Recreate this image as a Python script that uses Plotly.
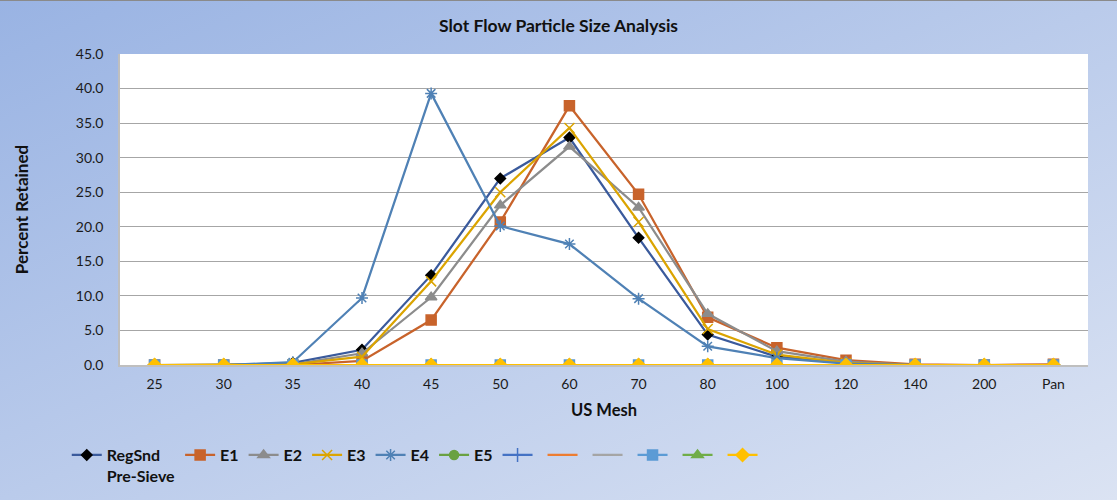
import plotly.graph_objects as go
import base64

categories = ["25", "30", "35", "40", "45", "50", "60", "70", "80", "100", "120", "140", "200", "Pan"]
regsnd = [0, 0, 0.3, 2.2, 13.0, 27.0, 32.9, 18.4, 4.4, 1.2, 0.3, 0, 0, 0]
e1 = [0, 0, 0, 0.6, 6.5, 20.7, 37.5, 24.7, 6.9, 2.5, 0.7, 0.1, 0, 0.1]
e2 = [0, 0, 0.1, 1.7, 9.8, 23.1, 31.6, 22.8, 7.4, 2.0, 0.5, 0, 0, 0]
e3 = [0, 0, 0.1, 1.2, 12.1, 25.0, 34.3, 20.7, 5.2, 1.5, 0.3, 0, 0, 0]
e4 = [0, 0, 0.4, 9.7, 39.3, 20.1, 17.5, 9.6, 2.7, 1.0, 0.2, 0, 0, 0]
e5 = [0] * 14
blank1 = [0] * 14
blank2 = [0] * 14
blank3 = [0] * 14
blank4 = [0] * 14
blank5 = [0] * 14
blank6 = [0] * 14

series = [
    ("<b>RegSnd<br>Pre-Sieve</b>", regsnd, "#3a5a9c", "diamond", 8, "#000000"),
    ("<b>E1</b>", e1, "#c8632b", "square", 10, "#c8632b"),
    ("<b>E2</b>", e2, "#8c8c8c", "triangle-up", 10, "#8c8c8c"),
    ("<b>E3</b>", e3, "#dba400", "x-thin-open", 10, "#dba400"),
    ("<b>E4</b>", e4, "#4f81b5", "asterisk-open", 10, "#4f81b5"),
    ("<b>E5</b>", e5, "#6aa142", "circle", 9, "#6aa142"),
    ("", blank1, "#4472c4", "cross-thin-open", 10, "#4472c4"),
    ("", blank2, "#ed7d31", "line-ew-open", 8, "#ed7d31"),
    ("", blank3, "#a5a5a5", "line-ew-open", 8, "#a5a5a5"),
    ("", blank4, "#5b9bd5", "square", 10, "#5b9bd5"),
    ("", blank5, "#70ad47", "triangle-up", 10, "#70ad47"),
    ("", blank6, "#ffc000", "diamond", 10, "#ffc000"),
]

fig = go.Figure()
for name, vals, col, sym, size, mcol in series:
    fig.add_trace(go.Scatter(
        x=categories, y=vals, name=name, mode="lines+markers",
        line=dict(color=col, width=2.25),
        marker=dict(symbol=sym, size=size, color=mcol,
                    line=dict(color=mcol, width=1.5)),
    ))

svg = ('<svg xmlns="http://www.w3.org/2000/svg" width="1117" height="500">'
       '<defs><linearGradient id="g" x1="0" y1="0" x2="1" y2="1">'
       '<stop offset="0" stop-color="#99b3e3"/><stop offset="1" stop-color="#dbe3f3"/>'
       '</linearGradient></defs><rect width="1117" height="500" fill="url(#g)"/>'
       '<line x1="0" y1="0.5" x2="1117" y2="0.5" stroke="#8a8a8a" stroke-width="1"/></svg>')
uri = "data:image/svg+xml;base64," + base64.b64encode(svg.encode()).decode()

L, R, T, B = 120, 29, 54, 135
W, H = 1117, 500
pw, ph = W - L - R, H - T - B

fig.add_layout_image(dict(source=uri, xref="paper", yref="paper",
                          x=-L / pw, y=1 + T / ph, sizex=W / pw, sizey=H / ph,
                          xanchor="left", yanchor="top", sizing="stretch", layer="below"))
fig.add_shape(type="rect", xref="paper", yref="paper", x0=0, x1=1, y0=0, y1=1,
              fillcolor="white", line=dict(width=0), layer="below")

font = "Lato, 'Open Sans', sans-serif"
fig.update_layout(
    width=W, height=H,
    margin=dict(l=L, r=R, t=T, b=B, autoexpand=False),
    paper_bgcolor="#c0d0ec",
    plot_bgcolor="rgba(0,0,0,0)",
    font=dict(family=font, size=14, color="#1a1a1a"),
    title=dict(text="<b>Slot Flow Particle Size Analysis</b>", x=0.5, xref="container",
               xanchor="center", y=1 - 26 / H, yanchor="middle",
               font=dict(size=17.5, color="#111")),
    xaxis=dict(type="category", showgrid=False, showline=True, linecolor="#bfbfbf",
               linewidth=1.5, ticks="", tickfont=dict(size=14), ticklabelstandoff=5,
               title=dict(text="<b>US Mesh</b>", font=dict(size=16.5, color="#111"), standoff=14),
               range=[-0.5, 13.5]),
    yaxis=dict(range=[0, 45], dtick=5, tickformat=".1f", showgrid=True,
               gridcolor="#a6a6a6", gridwidth=1.3, showline=True, linecolor="#bfbfbf",
               linewidth=1.5, ticks="", tickfont=dict(size=14), zeroline=False,
               ticklabelstandoff=12,
               title=dict(text="<b>Percent Retained</b>", font=dict(size=17, color="#111"), standoff=43)),
    legend=dict(orientation="h", x=-0.055, xanchor="left", y=-0.235, yanchor="top",
                valign="top", bgcolor="rgba(0,0,0,0)",
                font=dict(size=16, color="#111", family=font), itemwidth=30,
                tracegroupgap=0),
    showlegend=True,
)

fig.write_html("out.html")
